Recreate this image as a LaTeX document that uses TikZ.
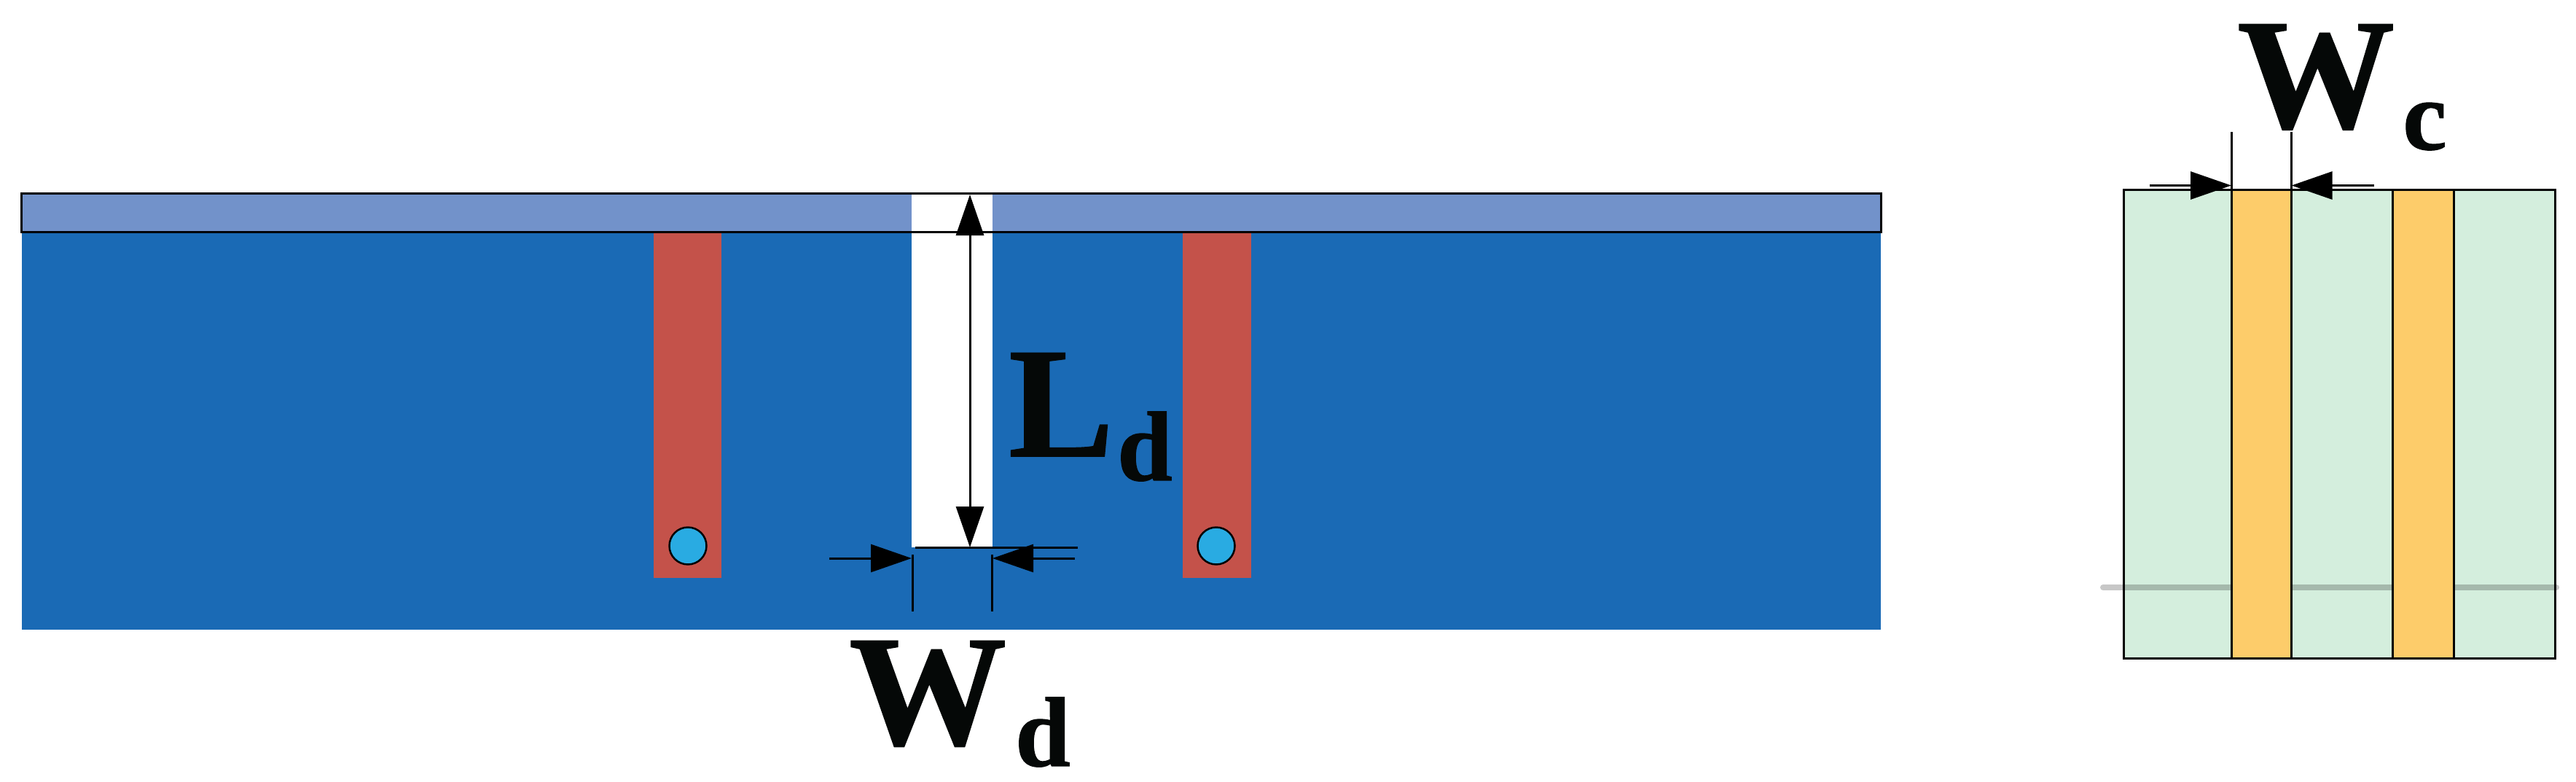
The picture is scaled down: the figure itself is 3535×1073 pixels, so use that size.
\documentclass[tikz,border=0pt]{standalone}
\usepackage{fontspec}
\setmainfont{Liberation Serif}
\newfontfamily\symfont[FakeBold=0.9]{Liberation Serif Bold}
\usetikzlibrary{arrows.meta}
\definecolor{bluebody}{HTML}{1A6AB5}
\definecolor{bluebar}{HTML}{7292CA}
\definecolor{redstrip}{HTML}{C4524A}
\definecolor{viafill}{HTML}{29ABE2}
\definecolor{greenbody}{HTML}{D4EEDD}
\definecolor{orangestrip}{HTML}{FDCC6A}
\definecolor{ink}{HTML}{050807}
\tikzset{
  outline/.style={draw=black,line width=3pt},
  dimline/.style={color=black,line width=3pt},
  dimarrow/.style={dimline,-{Triangle[length=56pt,width=38pt,color=black,fill=black]}},
  bigsym/.style={inner sep=0pt,anchor=base west,text=ink,font=\symfont\fontsize{216}{216}\selectfont},
  subsym/.style={inner sep=0pt,anchor=base west,text=ink,font=\symfont\fontsize{136}{136}\selectfont},
  viahole/.style={circle,draw=black,line width=2.5pt,fill=viafill,minimum size=51pt,inner sep=0pt},
}
\begin{document}
\begin{tikzpicture}[x=1pt,y=-1pt]
\useasboundingbox (0,0) rectangle (3535,1073);
% left body
\fill[bluebody] (29.5,317) rectangle (2581,864);
\fill[bluebar] (29.5,265) rectangle (2581,318);
\fill[white] (1251,265) rectangle (1362,751);
\fill[redstrip] (897,318) rectangle (990,793);
\fill[redstrip] (1623,318) rectangle (1717,793);
\draw[outline] (29.5,265) rectangle (2581,318);
\node[viahole] (viaL) at (944,749) {};
\node[viahole] (viaR) at (1669,749) {};
% slot dimensions
\coordinate (ldTop) at (1331,267);
\coordinate (ldMid) at (1331,500);
\coordinate (ldBot) at (1331,751);
\draw[dimarrow] (ldMid) -- (ldTop);
\draw[dimarrow] (ldMid) -- (ldBot);
\coordinate (slotA) at (1256,751);
\coordinate (slotB) at (1479,751);
\draw[dimline] (slotA) -- (slotB);
\coordinate (wdLs) at (1138,766);
\coordinate (wdLt) at (1251,766);
\coordinate (wdRs) at (1475,766);
\coordinate (wdRt) at (1362,766);
\draw[dimarrow] (wdLs) -- (wdLt);
\draw[dimarrow] (wdRs) -- (wdRt);
\coordinate (tickLa) at (1252,761);
\coordinate (tickLb) at (1252,839);
\coordinate (tickRa) at (1361,761);
\coordinate (tickRb) at (1361,839);
\draw[dimline] (tickLa) -- (tickLb);
\draw[dimline] (tickRa) -- (tickRb);
% labels
\node[bigsym] (Lsym) at (1384,626) {L};
\node[subsym] (Lsub) at (1533,659) {d};
\node[bigsym] (Wsym) at (1165,1021) {W};
\node[subsym] (Wsub) at (1393,1051) {d};
% right body
\fill[greenbody] (2914,260.5) rectangle (3506,903);
\draw[line width=8pt,line cap=round,black,opacity=.22] (2886,806) -- (3508,806);
\fill[orangestrip] (3062,260.5) rectangle (3144.5,903);
\fill[orangestrip] (3283,260.5) rectangle (3367,903);
\draw[outline] (2914,260.5) rectangle (3506,903);
\draw[outline] (3062,260.5) -- (3062,903);
\draw[outline] (3144.5,260.5) -- (3144.5,903);
\draw[outline] (3283,260.5) -- (3283,903);
\draw[outline] (3367,260.5) -- (3367,903);
% right dimensions
\coordinate (wcLs) at (2950,254.5);
\coordinate (wcLt) at (3062,254.5);
\coordinate (wcRs) at (3257.5,254.5);
\coordinate (wcRt) at (3144.5,254.5);
\draw[dimarrow] (wcLs) -- (wcLt);
\draw[dimarrow] (wcRs) -- (wcRt);
\coordinate (wcTa) at (3062,181);
\coordinate (wcTb) at (3062,260);
\coordinate (wcUa) at (3144.5,181);
\coordinate (wcUb) at (3144.5,260);
\draw[dimline] (wcTa) -- (wcTb);
\draw[dimline] (wcUa) -- (wcUb);
\node[bigsym] (Wcsym) at (3070,175) {W};
\node[subsym] (Wcsub) at (3297,205) {c};
\end{tikzpicture}
\end{document}
